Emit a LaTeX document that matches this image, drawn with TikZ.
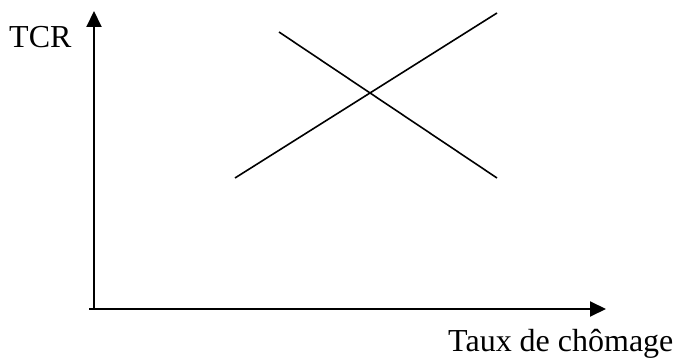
\documentclass[tikz,border=0pt]{standalone}
\usepackage{fontspec}
\setmainfont{Liberation Serif}
\usetikzlibrary{arrows.meta}
\begin{document}
\begin{tikzpicture}[x=1pt,y=-1pt,
  axis/.style={line width=2pt,-{Triangle[length=16pt,width=15pt]}},
  curve/.style={line width=1.6pt},
  lbl/.style={font=\fontsize{32}{32}\selectfont,inner sep=0pt,anchor=base west}]
\useasboundingbox (0,0) rectangle (678,358);
\coordinate (o) at (94,309);
\coordinate (ytip) at (94,11);
\coordinate (x0) at (89,309);
\coordinate (xtip) at (606,309);
\draw[axis] (o) -- (ytip);
\draw[axis] (x0) -- (xtip);
\coordinate (a1) at (235,178);
\coordinate (a2) at (497,13);
\coordinate (b1) at (279,32);
\coordinate (b2) at (497,178);
\draw[curve] (a1) -- (a2);
\draw[curve] (b1) -- (b2);
\node[lbl] (tcr) at (9,48) {TCR};
\node[lbl] (tx) at (448,352) {Taux de chômage};
\end{tikzpicture}
\end{document}
